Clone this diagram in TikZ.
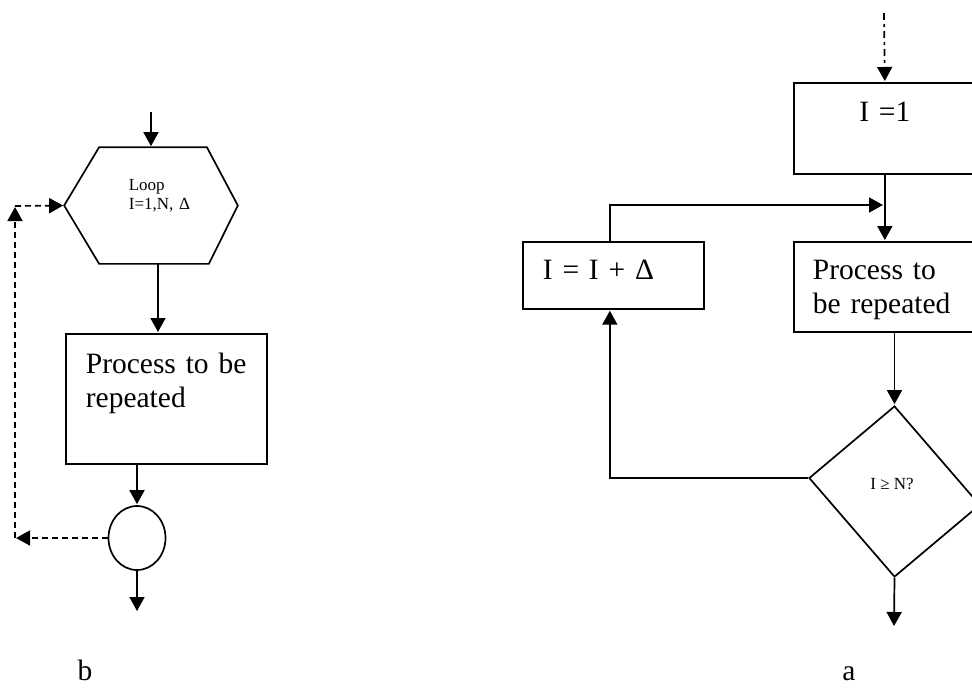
\documentclass[tikz,border=0pt]{standalone}
\usepackage{fontspec}
\setmainfont{Liberation Serif}
\usetikzlibrary{arrows.meta,shapes.geometric}

\begin{document}
\begin{tikzpicture}[x=1pt,y=-1pt,->,>={Triangle[length=14pt,width=15pt]},shorten >=1pt,
		line width=1.7pt,
		big/.style={font=\fontsize{29.5}{34}\selectfont},
		small/.style={font=\fontsize{17}{19}\selectfont},
		stepbox/.style={draw,rectangle,anchor=north west,inner ysep=0pt,align=left},
		dashline/.style={dash pattern=on 6pt off 4pt},
		dashdot/.style={dash pattern=on 7pt off 4pt on 3pt off 4pt}]

		\useasboundingbox (0,0) rectangle (972,689);

		% b: loop symbol
		\node[minimum width=172pt,minimum height=115pt,inner sep=0pt] (loop) at (151,205.5) {};
		\draw[-] (loop.west) -- ([xshift=35pt]loop.north west) -- ([xshift=-31pt]loop.north east)
			-- (loop.east) -- ([xshift=-29pt]loop.south east) -- ([xshift=35pt]loop.south west) -- cycle;
		\node[small,anchor=base west,align=left,text width=70pt,inner sep=0pt] (loopText) at (128,190) {Loop\\I=1,N, Δ};
		\node[stepbox,big,text width=161pt,inner xsep=20pt,text height=40pt,text depth=90pt] (procB) at (65,333) {Process to be\\repeated};
		\node[draw,ellipse,minimum width=57pt,minimum height=64pt,inner sep=0pt] (join) at (137,538) {};
		\node[big,anchor=base] (labelB) at (85,680) {b};

		\coordinate (inB) at (151,112);
		\coordinate (hexOut) at ([xshift=7pt]loop.south);
		\coordinate (outB) at (137,612);
		\coordinate (cornerB) at (15,206);

		\draw (inB) -- (loop.north);
		\draw (hexOut) -- (hexOut |- procB.north);
		\draw (procB.south -| join.north) -- (join.north);
		\draw (join.south) -- (outB);
		\draw[dashline] (join.west) -- (join.west -| cornerB);
		\draw[dashline] (join.west -| cornerB) -- (cornerB);
		\draw[dashline] (cornerB) -- (loop.west);

		% a: flow chart
		\node[stepbox,big,text width=182pt,inner xsep=0pt,align=center,text height=39pt,text depth=52pt] (init) at (793,82) {I =1};
		\node[stepbox,big,text width=141pt,inner xsep=20pt,text height=38pt,text depth=29pt] (incr) at (522,241) {I = I + Δ};
		\node[stepbox,big,text width=144pt,inner xsep=19pt,text height=38pt,text depth=52pt] (procA) at (793,241) {Process to\\be repeated};
		\node[draw,diamond,minimum width=171pt,minimum height=171pt,inner sep=0pt,yslant=-0.158] (test) at (894.5,491.5) {};
		\node[small] (testText) at (892,484) {I ≥ N?};
		\node[big,anchor=base] (labelA) at (849,680) {a};

		\coordinate (inA) at (884,13);
		\coordinate (merge) at (884,205);
		\coordinate (outA) at (894,627);

		\draw[dashdot] (inA) -- (init.north);
		\draw (init.south) -- (procA.north);
		\draw ([xshift=-3.5pt]incr.north) |- (merge);
		\draw (procA.south -| test.north) -- (test.north);
		\draw (test.south) -- (outA);
		\draw (test.west) -| ([xshift=-3.5pt]incr.south);
	\end{tikzpicture}
\end{document}
